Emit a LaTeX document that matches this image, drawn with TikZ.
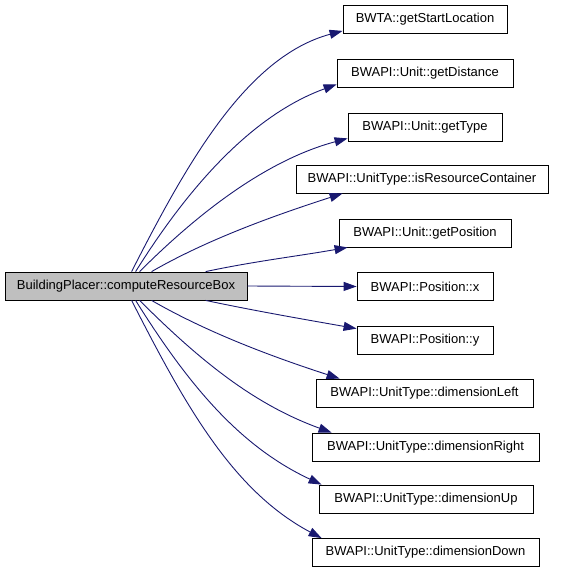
\documentclass[tikz,border=0pt]{standalone}
\usepackage{fontspec}
\setmainfont{Liberation Sans}
\usetikzlibrary{arrows.meta}
\definecolor{edgeblue}{RGB}{25,25,112}
\definecolor{srcgray}{RGB}{191,191,191}
\tikzset{
  fn/.style={draw=black, line width=0.8pt, minimum height=28pt, inner sep=0pt,
    font=\fontsize{13}{15}\selectfont},
  call/.style={draw=edgeblue, line width=0.9pt,
    -{Triangle[length=13pt,width=9pt,fill=edgeblue]}},
}
\begin{document}
\begin{tikzpicture}[x=1pt,y=1pt]
\useasboundingbox (0,0) rectangle (560,-573);
\node[fn, fill=srcgray, minimum width=242pt] (src) at (126,-286) {BuildingPlacer::computeResourceBox};
\node[fn, minimum width=164pt] (startloc)  at (425,-19.5) {BWTA::getStartLocation};
\node[fn, minimum width=176pt] (getdist)   at (425,-73)   {BWAPI::Unit::getDistance};
\node[fn, minimum width=154pt] (gettype)   at (425,-127)  {BWAPI::Unit::getType};
\node[fn, minimum width=252pt] (isres)     at (422,-179)  {BWAPI::UnitType::isResourceContainer};
\node[fn, minimum width=172pt] (getpos)    at (425,-233)  {BWAPI::Unit::getPosition};
\node[fn, minimum width=136pt] (posx)      at (425,-286.5){BWAPI::Position::x};
\node[fn, minimum width=136pt] (posy)      at (425,-340)  {BWAPI::Position::y};
\node[fn, minimum width=217pt] (dimleft)   at (424.5,-393){BWAPI::UnitType::dimensionLeft};
\node[fn, minimum width=227pt] (dimright)  at (425.5,-447){BWAPI::UnitType::dimensionRight};
\node[fn, minimum width=214pt] (dimup)     at (426,-499)  {BWAPI::UnitType::dimensionUp};
\node[fn, minimum width=227pt] (dimdown)   at (425.5,-552.5){BWAPI::UnitType::dimensionDown};
% calls above the caller
\draw[call] ([xshift=127pt]src.north west) .. controls +(63:120) and +(195:100) .. ([yshift=3pt]startloc.south west);
\draw[call] ([xshift=131pt]src.north west) .. controls +(58:100) and +(200:90) .. ([yshift=3pt]getdist.south west);
\draw[call] ([xshift=135pt]src.north west) .. controls +(45:90) and +(195:80) .. ([yshift=3pt]gettype.south west);
\draw[call] ([xshift=147pt]src.north west) .. controls +(30:70) and +(198:60) .. ([xshift=47pt]isres.south west);
\draw[call] ([xshift=201pt]src.north west) .. controls +(12:50) and +(190:50) .. ([xshift=9pt]getpos.south west);
\draw[call] (src.east) -- (posx.west);
% calls below the caller
\draw[call] ([xshift=201pt]src.south west) .. controls +(-12:50) and +(170:50) .. ([yshift=-3pt]posy.north west);
\draw[call] ([xshift=147pt]src.south west) .. controls +(-30:70) and +(162:60) .. ([xshift=24pt]dimleft.north west);
\draw[call] ([xshift=135pt]src.south west) .. controls +(-45:90) and +(160:80) .. ([xshift=20pt]dimright.north west);
\draw[call] ([xshift=131pt]src.south west) .. controls +(-58:100) and +(155:90) .. ([xshift=3pt]dimup.north west);
\draw[call] ([xshift=127pt]src.south west) .. controls +(-63:120) and +(152:100) .. ([xshift=10pt]dimdown.north west);
\end{tikzpicture}
\end{document}
